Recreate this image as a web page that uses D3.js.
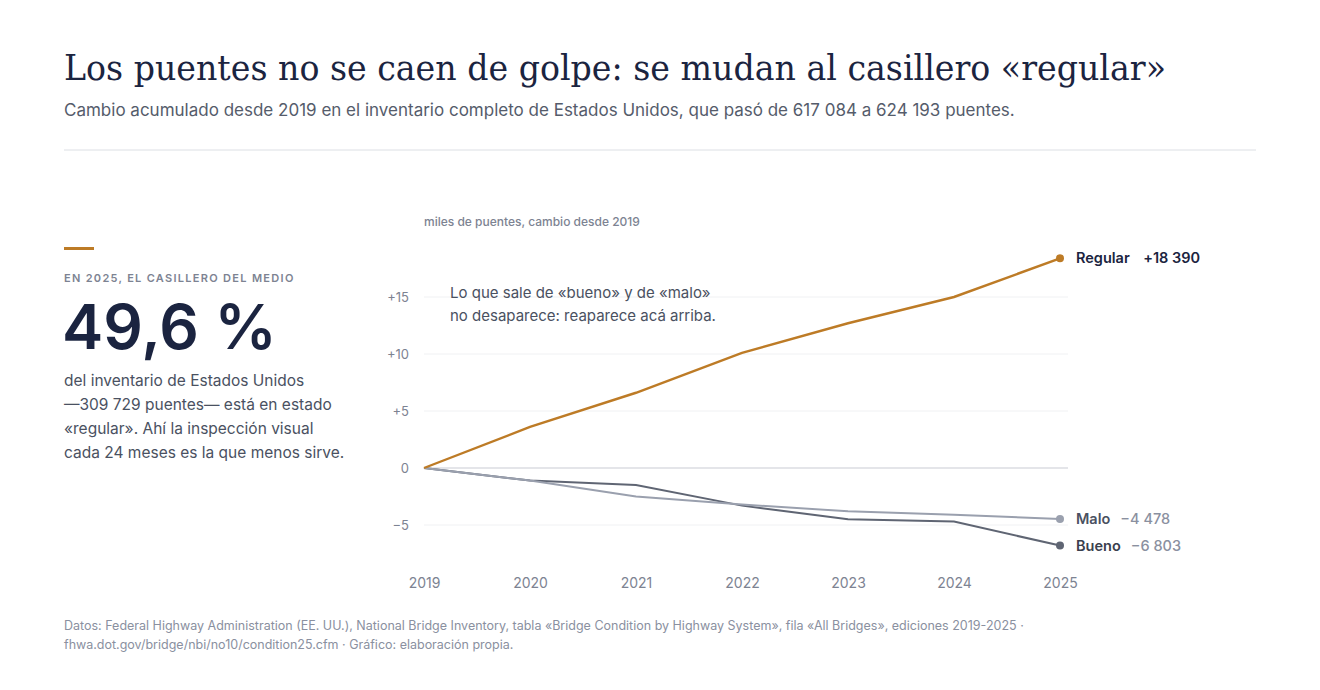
<!DOCTYPE html>
<html><head><meta charset="utf-8">
<script src="https://cdn.jsdelivr.net/npm/d3@7"></script>
<style>
body{margin:0;background:#fff;font-family:Inter,sans-serif;}
</style></head><body>
<svg id="c" width="1320" height="690"></svg>
<script>
// Data
var years = [2019, 2020, 2021, 2022, 2023, 2024, 2025];
var regular = [0, 3.6, 6.6, 10.1, 12.7, 15.0, 18.39];
var malo = [0, -1.1, -2.5, -3.2, -3.8, -4.1, -4.478];
var bueno = [0, -1.1, -1.5, -3.3, -4.5, -4.7, -6.803];
var yTicks = [-5, 0, 5, 10, 15];
var series = [
  {name: "Regular", label: "+18 390", values: regular, color: "#bd7b26", w: 2.4, txt: "#1b2440", num: "#1b2440"},
  {name: "Malo", label: "\u22124 478", values: malo, color: "#9aa0ae", w: 2, txt: "#4a5161", num: "#8a90a0"},
  {name: "Bueno", label: "\u22126 803", values: bueno, color: "#5f6573", w: 2, txt: "#3a404d", num: "#8a90a0"}
];

var svg = d3.select("#c");

svg.append("text").attr("x", 64).attr("y", 80)
  .style("font-family", "'DejaVu Serif', serif").style("font-size", "36px").attr("fill", "#1b2440")
  .attr("textLength", 1102).attr("lengthAdjust", "spacingAndGlyphs")
  .text("Los puentes no se caen de golpe: se mudan al casillero «regular»");
svg.append("text").attr("x", 64).attr("y", 116).style("font-size", "17px").attr("fill", "#555c6b")
  .text("Cambio acumulado desde 2019 en el inventario completo de Estados Unidos, que pasó de 617 084 a 624 193 puentes.");
svg.append("line").attr("x1", 64).attr("x2", 1256).attr("y1", 150).attr("y2", 150).attr("stroke", "#dcdfe4");

// left panel
svg.append("rect").attr("x", 64).attr("y", 247).attr("width", 30).attr("height", 3).attr("fill", "#bd7b26");
svg.append("text").attr("x", 64).attr("y", 282).style("font-size", "11px").style("font-weight", 600)
  .style("letter-spacing", "1.3px").attr("fill", "#7d8392").text("EN 2025, EL CASILLERO DEL MEDIO");
svg.append("text").attr("x", 62).attr("y", 349).style("font-size", "62px").style("font-weight", 600)
  .attr("fill", "#1b2440").text("49,6 %");
["del inventario de Estados Unidos", "\u2014309 729 puentes\u2014 está en estado",
 "«regular». Ahí la inspección visual", "cada 24 meses es la que menos sirve."].forEach(function(t, i) {
  svg.append("text").attr("x", 64).attr("y", 386 + i * 24).style("font-size", "15.5px").attr("fill", "#4a5161").text(t);
});

// chart
var x = d3.scaleLinear().domain([2019, 2025]).range([424, 1060]);
var y = d3.scaleLinear().domain([-7, 19]).range([547.8, 251.4]);

svg.append("text").attr("x", 424).attr("y", 226).style("font-size", "12px").style("font-weight", 500)
  .attr("fill", "#7d8392").text("miles de puentes, cambio desde 2019");

var g = svg.append("g");
g.selectAll(".grid").data(yTicks).enter().append("line")
  .attr("x1", 424).attr("x2", 1068).attr("y1", d => y(d)).attr("y2", d => y(d))
  .attr("stroke", d => d === 0 ? "#c9ccd3" : "#f0f1f3").attr("stroke-width", d => d === 0 ? 1.2 : 1);

var yAxis = svg.append("g").attr("transform", "translate(412,0)")
  .call(d3.axisLeft(y).tickValues(yTicks).tickSize(0)
    .tickFormat(d => d > 0 ? "+" + d : d < 0 ? "\u2212" + (-d) : "0"));
yAxis.select(".domain").remove();
yAxis.selectAll("text").style("font-family", "Inter").style("font-size", "13px").attr("fill", "#7d8392");

var xAxis = svg.append("g").attr("transform", "translate(0,575)")
  .call(d3.axisBottom(x).tickValues(years).tickSize(0).tickFormat(d3.format("d")));
xAxis.select(".domain").remove();
xAxis.selectAll("text").style("font-family", "Inter").style("font-size", "14px").attr("fill", "#7d8392");

var line = d3.line().x((d, i) => x(years[i])).y(d => y(d));
series.slice().reverse().forEach(function(s) {
  svg.append("path").datum(s.values).attr("d", line).attr("fill", "none")
    .attr("stroke", s.color).attr("stroke-width", s.w);
  var last = s.values[s.values.length - 1];
  svg.append("circle").attr("cx", x(2025)).attr("cy", y(last)).attr("r", 4).attr("fill", s.color);
  var t = svg.append("text").attr("x", 1076).attr("y", y(last) + 5).style("font-size", "14.5px");
  t.append("tspan").style("font-weight", 600).attr("fill", s.txt).text(s.name);
  t.append("tspan").attr("dx", s.name === "Regular" ? 14 : 10).style("font-weight", s.name === "Regular" ? 600 : 500)
    .attr("fill", s.num).text(s.label);
});

svg.append("text").attr("x", 450).attr("y", 298).style("font-size", "15px").attr("fill", "#4a5161")
  .text("Lo que sale de «bueno» y de «malo»");
svg.append("text").attr("x", 450).attr("y", 321).style("font-size", "15px").attr("fill", "#4a5161")
  .text("no desaparece: reaparece acá arriba.");

svg.append("text").attr("x", 64).attr("y", 630).style("font-size", "12.5px").attr("fill", "#8a90a0")
  .text("Datos: Federal Highway Administration (EE. UU.), National Bridge Inventory, tabla «Bridge Condition by Highway System», fila «All Bridges», ediciones 2019-2025 ·");
svg.append("text").attr("x", 64).attr("y", 649).style("font-size", "12.5px").attr("fill", "#8a90a0")
  .text("fhwa.dot.gov/bridge/nbi/no10/condition25.cfm · Gráfico: elaboración propia.");
</script></body></html>
